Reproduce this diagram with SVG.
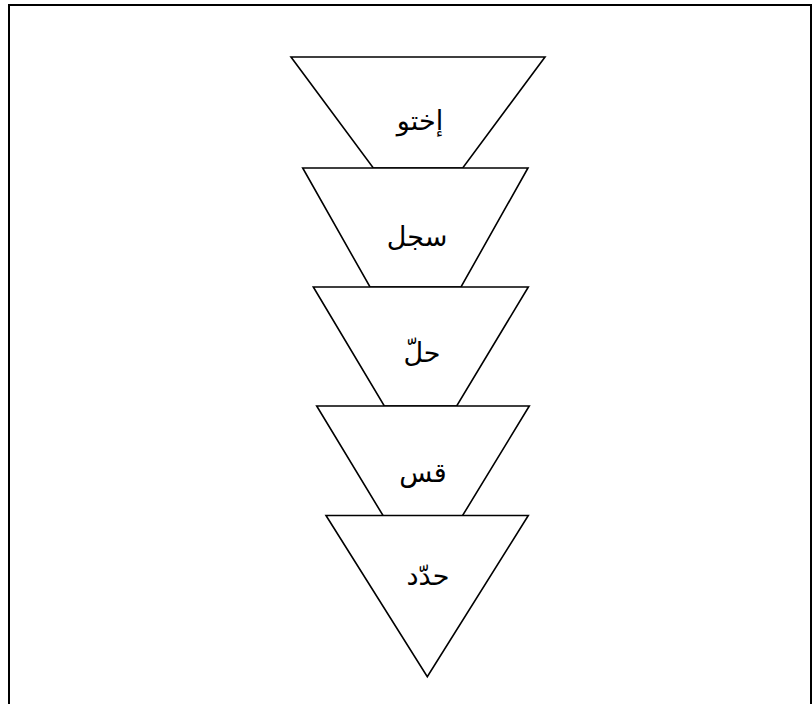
<svg xmlns="http://www.w3.org/2000/svg" width="812" height="704" viewBox="0 0 812 704">
  <style>
    .shape { fill: #ffffff; stroke: #000000; stroke-width: 1.6; stroke-linejoin: miter; }
    .label { font-family: "Liberation Sans", "DejaVu Sans", sans-serif; font-size: 27px; fill: #000000; text-anchor: middle; }
    .frame { fill: #ffffff; stroke: #000000; stroke-width: 2; }
  </style>
  <rect class="frame" x="9" y="5" width="802" height="760"/>
  <g id="connectors"></g>
  <g id="node1">
    <polygon class="shape" points="291,57 545,57 462.7,168 373.3,168"/>
    <text class="label" x="420" y="130">إختو</text>
  </g>
  <g id="node2">
    <polygon class="shape" points="302.7,168 528,168 461,287 370,287"/>
    <text class="label" x="417" y="246">سجل</text>
  </g>
  <g id="node3">
    <polygon class="shape" points="313.3,287 528.3,287 456.7,406 384.3,406"/>
    <text class="label" x="422" y="362">حلّ</text>
  </g>
  <g id="node4">
    <polygon class="shape" points="316.7,406 529.3,406 462.3,516 383.3,516"/>
    <text class="label" x="423" y="482">قس</text>
  </g>
  <g id="node5">
    <polygon class="shape" points="326,515.5 528.3,515.5 427.3,676.7"/>
    <text class="label" x="428" y="585">حدّد</text>
  </g>
</svg>
